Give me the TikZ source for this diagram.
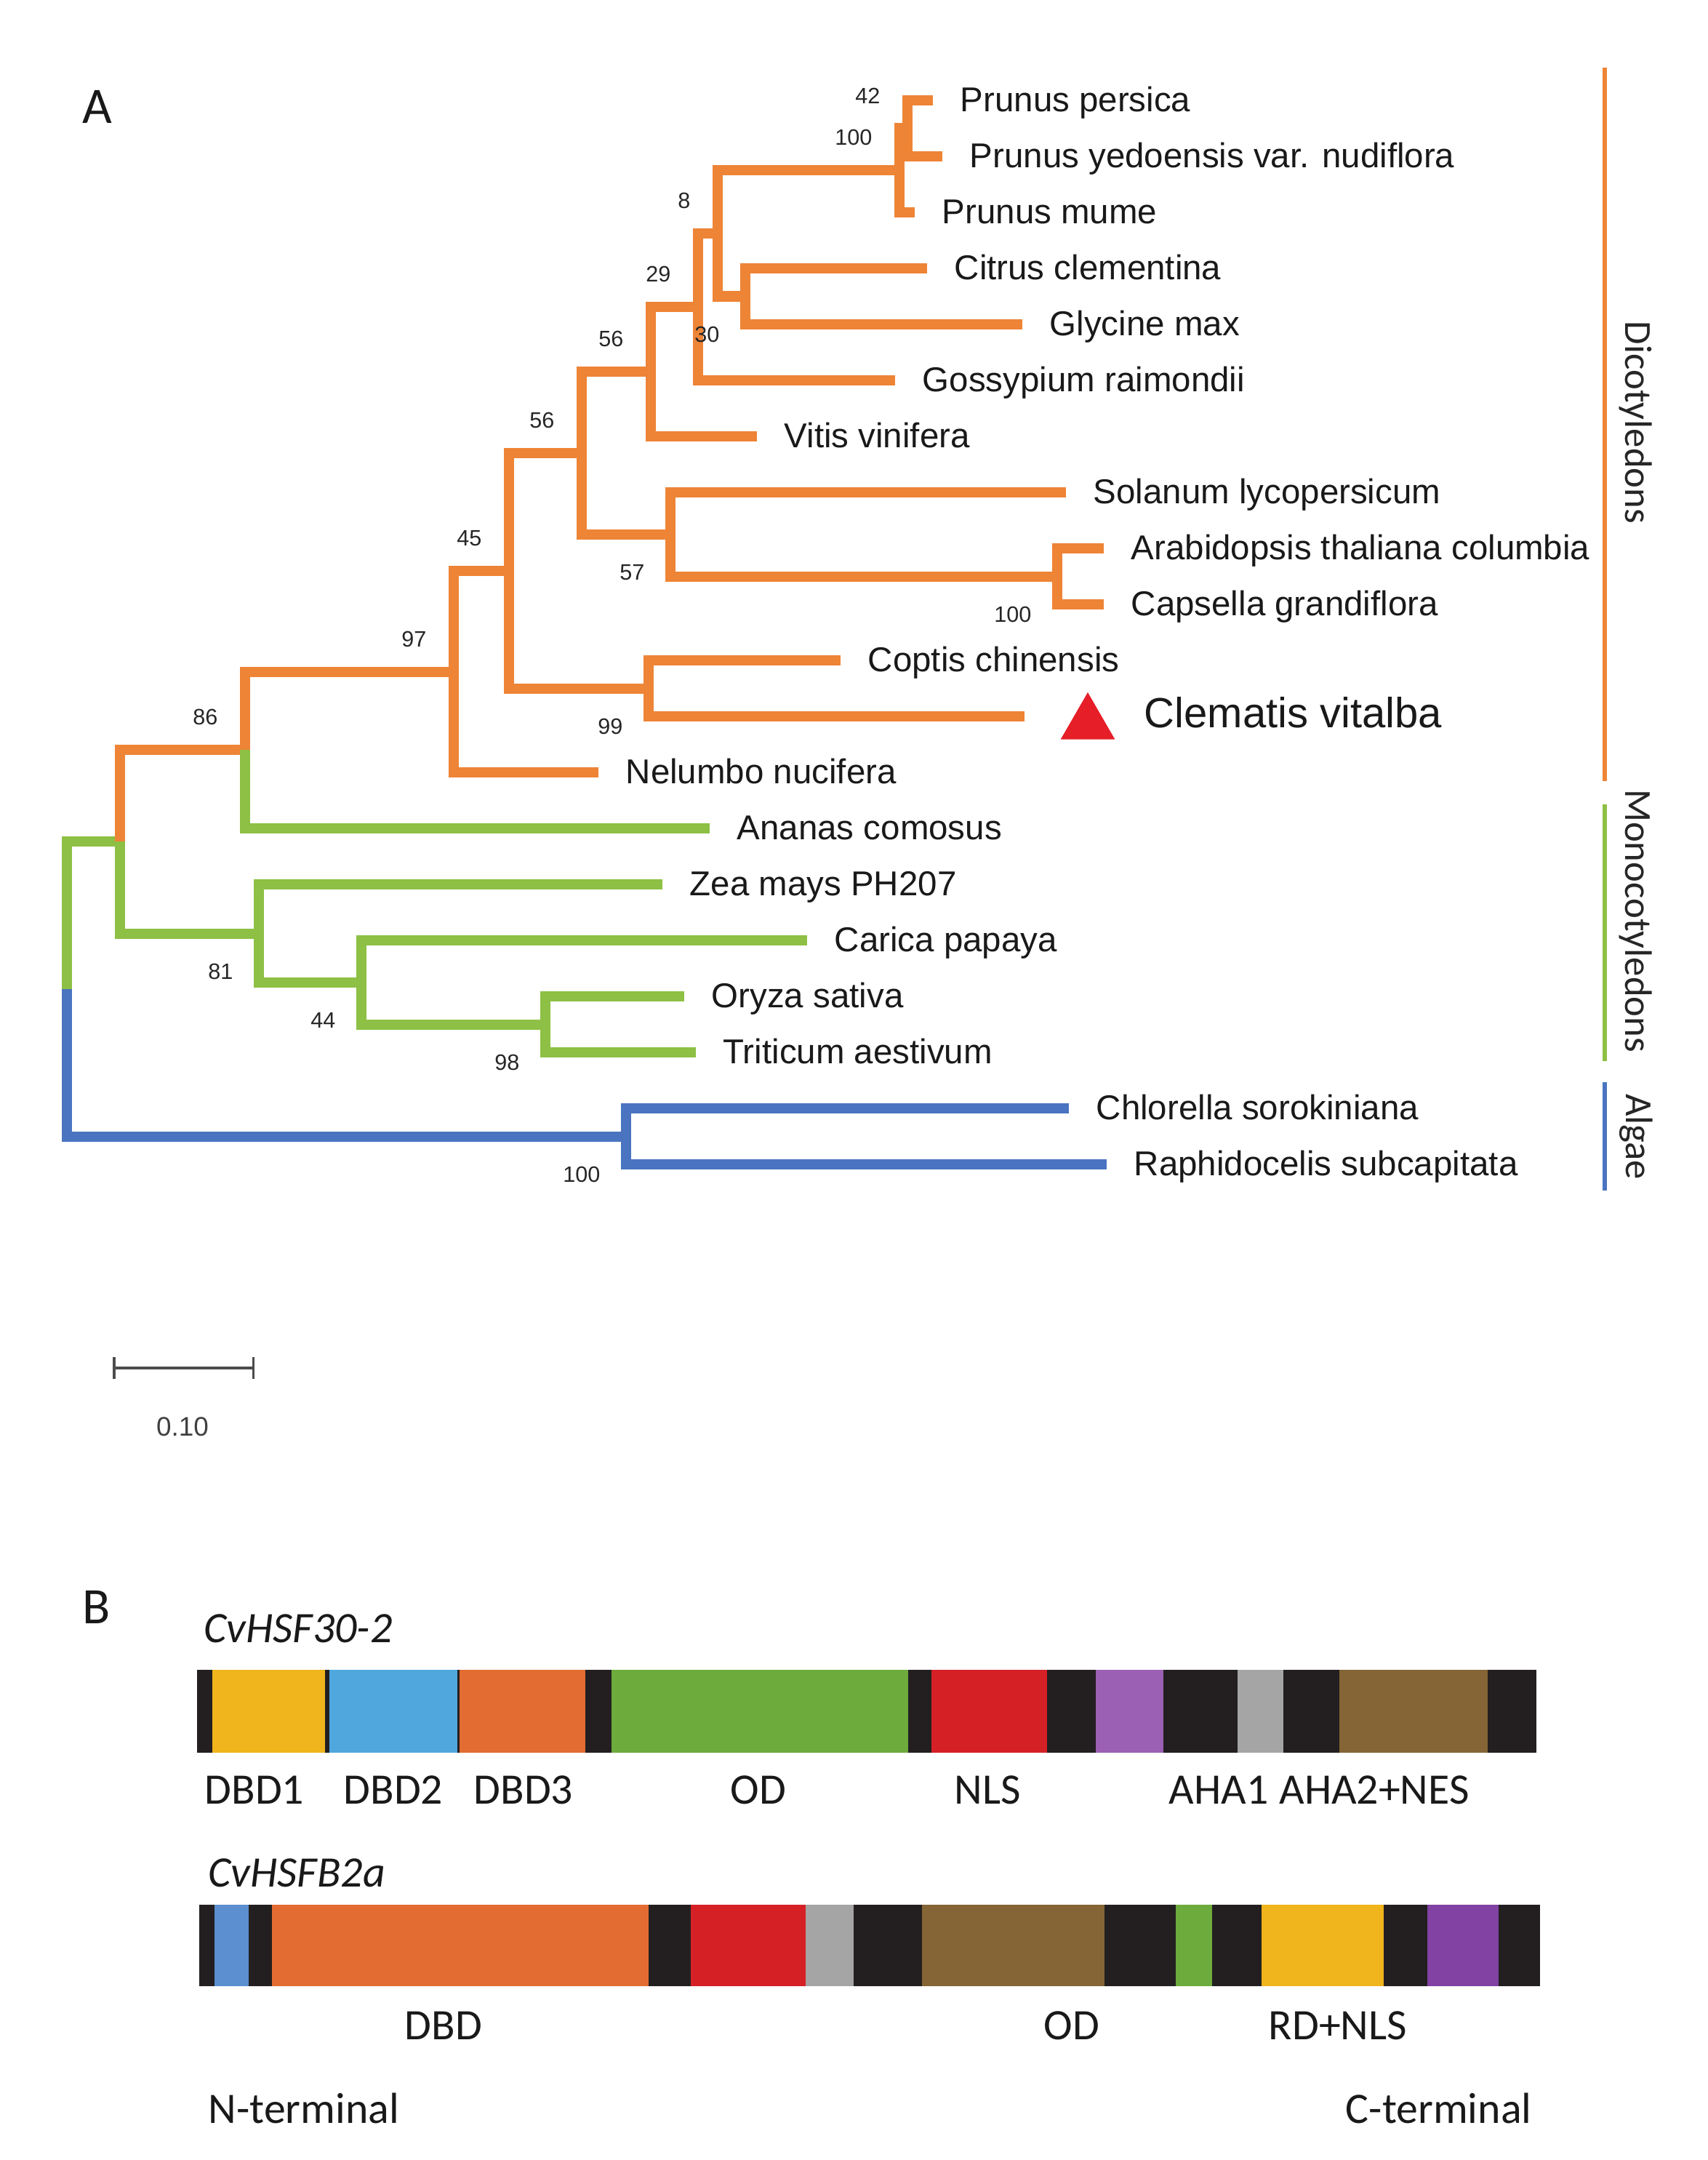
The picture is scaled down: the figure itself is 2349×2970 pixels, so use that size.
\documentclass[tikz,border=0pt]{standalone}
\usepackage{fontspec}
\setmainfont{Liberation Sans}
\newfontfamily\calibriFont{Carlito}
\usetikzlibrary{shapes.geometric,arrows.meta}
\definecolor{dicotOrange}{HTML}{EE8436}
\definecolor{monoGreen}{HTML}{8DC044}
\definecolor{algaeBlue}{HTML}{4A74C0}
\definecolor{markRed}{HTML}{E61E28}
\definecolor{segBlack}{HTML}{231F20}
\definecolor{segYellow}{HTML}{F0B41C}
\definecolor{segBlue}{HTML}{4FA7DE}
\definecolor{segOrange}{HTML}{E36C32}
\definecolor{segGreen}{HTML}{6DAB3C}
\definecolor{segRed}{HTML}{D52126}
\definecolor{segPurple}{HTML}{9B5FB4}
\definecolor{segGray}{HTML}{A5A5A5}
\definecolor{segBrown}{HTML}{856535}
\definecolor{segBlueB}{HTML}{5B8FD0}
\definecolor{segPurpleB}{HTML}{8142A3}
\begin{document}
\begin{tikzpicture}[x=0.01cm, y=-0.01cm,
		branch/.style={line width=0.14cm, line join=miter},
		dicot/.style={branch, draw=dicotOrange},
		mono/.style={branch, draw=monoGreen},
		algae/.style={branch, draw=algaeBlue},
		leaf/.style={anchor=west, inner xsep=0.37cm, inner ysep=0pt, text=black!90, font=\fontsize{13.5}{16}\selectfont, text height=1.1em, text depth=0.2em},
		boot/.style={anchor=east, inner sep=0pt, text=black!85, font=\fontsize{8.7}{10}\selectfont},
		groupBar/.style={line width=0.06cm},
		groupLabel/.style={rotate=-90, text=black!85, font=\calibriFont\fontsize{15}{18}\selectfont},
		panelLabel/.style={text=black!90, font=\calibriFont\fontsize{20}{24}\selectfont},
		domainLabel/.style={text=black!90, font=\calibriFont\fontsize{17}{20}\selectfont},
		protName/.style={anchor=west, inner sep=0pt, text=black!90, font=\calibriFont\itshape\fontsize{17}{20}\selectfont}]
	\useasboundingbox (0,0) rectangle (2349,2970);
	\node[panelLabel](panelA) at (134,147){A};
	% tree nodes
	\coordinate(root) at (92,1360);
	\coordinate(rootB) at (165,1157);
	\coordinate(node86) at (337,1031);
	\coordinate(node97) at (624,923.5);
	\coordinate(node45) at (700,785);
	\coordinate(node56b) at (800,623);
	\coordinate(node56a) at (895,511);
	\coordinate(node29) at (960,422);
	\coordinate(node8) at (987,321);
	\coordinate(node100a) at (1237,234);
	\coordinate(node42) at (1248,176.5);
	\coordinate(node30) at (1025,407.5);
	\coordinate(node57) at (922,735);
	\coordinate(node100b) at (1454,792.5);
	\coordinate(node99) at (892,946.5);
	\coordinate(node81) at (356,1283.5);
	\coordinate(node44) at (497,1351);
	\coordinate(node98) at (750,1408.5);
	\coordinate(node100c) at (861,1562.5);
	\coordinate(clematisEnd) at (1409,985);
	% leaves
	\node[leaf](persicaLeaf) at (1283,138){Prunus persica};
	\node[leaf](yedoensisLeaf) at (1296,215){Prunus yedoensis var. nudiflora};
	\node[leaf](mumeLeaf) at (1258,292){Prunus mume};
	\node[leaf](citrusLeaf) at (1275,369){Citrus clementina};
	\node[leaf](glycineLeaf) at (1406,446){Glycine max};
	\node[leaf](gossypiumLeaf) at (1231,523){Gossypium raimondii};
	\node[leaf](vitisLeaf) at (1041,600){Vitis vinifera};
	\node[leaf](solanumLeaf) at (1466,677){Solanum lycopersicum};
	\node[leaf](arabidopsisLeaf) at (1518,754){Arabidopsis thaliana columbia};
	\node[leaf](capsellaLeaf) at (1518,831){Capsella grandiflora};
	\node[leaf](coptisLeaf) at (1156,908){Coptis chinensis};
	\node[regular polygon, regular polygon sides=3, fill=markRed, inner sep=0pt, minimum size=0.86cm](clematisMark) at (1496,995){};
	\node[leaf, font=\fontsize{16.5}{20}\selectfont](clematisLeaf) at (1536,985){Clematis vitalba};
	\node[leaf](nelumboLeaf) at (823,1062){Nelumbo nucifera};
	\node[leaf](ananasLeaf) at (976,1139){Ananas comosus};
	\node[leaf](zeaLeaf) at (911,1216){Zea mays PH207};
	\node[leaf](caricaLeaf) at (1110,1293){Carica papaya};
	\node[leaf](oryzaLeaf) at (941,1370){Oryza sativa};
	\node[leaf](triticumLeaf) at (957,1447){Triticum aestivum};
	\node[leaf](chlorellaLeaf) at (1470,1524){Chlorella sorokiniana};
	\node[leaf](raphidoLeaf) at (1522,1601){Raphidocelis subcapitata};
	% branches
	\draw[algae] (root) |- (node100c);
	\draw[algae] (node100c) |- (chlorellaLeaf.west);
	\draw[algae] (node100c) |- (raphidoLeaf.west);
	\draw[mono] (root) |- (rootB);
	\draw[dicot] (rootB) |- (node86);
	\draw[mono] (rootB) |- (node81);
	\draw[mono] (node86) |- (ananasLeaf.west);
	\draw[dicot] (node86) |- (node97);
	\draw[dicot] (node97) |- (nelumboLeaf.west);
	\draw[dicot] (node97) |- (node45);
	\draw[dicot] (node45) |- (node56b);
	\draw[dicot] (node45) |- (node99);
	\draw[dicot] (node99) |- (coptisLeaf.west);
	\draw[dicot] (node99) |- (clematisEnd);
	\draw[dicot] (node56b) |- (node56a);
	\draw[dicot] (node56b) |- (node57);
	\draw[dicot] (node57) |- (solanumLeaf.west);
	\draw[dicot] (node57) |- (node100b);
	\draw[dicot] (node100b) |- (arabidopsisLeaf.west);
	\draw[dicot] (node100b) |- (capsellaLeaf.west);
	\draw[dicot] (node56a) |- (node29);
	\draw[dicot] (node56a) |- (vitisLeaf.west);
	\draw[dicot] (node29) |- (node8);
	\draw[dicot] (node29) |- (gossypiumLeaf.west);
	\draw[dicot] (node8) |- (node100a);
	\draw[dicot] (node8) |- (node30);
	\draw[dicot] (node30) |- (citrusLeaf.west);
	\draw[dicot] (node30) |- (glycineLeaf.west);
	\draw[dicot] (node100a) |- (node42);
	\draw[dicot] (node100a) |- (mumeLeaf.west);
	\draw[dicot] (node42) |- (persicaLeaf.west);
	\draw[dicot] (node42) |- (yedoensisLeaf.west);
	\draw[mono] (node81) |- (zeaLeaf.west);
	\draw[mono] (node81) |- (node44);
	\draw[mono] (node44) |- (caricaLeaf.west);
	\draw[mono] (node44) |- (node98);
	\draw[mono] (node98) |- (oryzaLeaf.west);
	\draw[mono] (node98) |- (triticumLeaf.west);
	% bootstrap values
	\path (node42) ++(-37,-45) node[boot](bs42){42};
	\path (node100a) ++(-37,-45) node[boot](bs100a){100};
	\path (node8) ++(-37,-45) node[boot](bs8){8};
	\path (node29) ++(-37,-45) node[boot](bs29){29};
	\path (node56a) ++(-37,-45) node[boot](bs56a){56};
	\path (node56b) ++(-37,-45) node[boot](bs56b){56};
	\path (node45) ++(-37,-45) node[boot](bs45){45};
	\path (node97) ++(-37,-45) node[boot](bs97){97};
	\path (node86) ++(-37,-45) node[boot](bs86){86};
	\path (node30) ++(-35,52) node[boot](bs30){30};
	\path (node57) ++(-35,52) node[boot](bs57){57};
	\path (node100b) ++(-35,52) node[boot](bs100b){100};
	\path (node99) ++(-35,52) node[boot](bs99){99};
	\path (node81) ++(-35,52) node[boot](bs81){81};
	\path (node44) ++(-35,52) node[boot](bs44){44};
	\path (node98) ++(-35,52) node[boot](bs98){98};
	\path (node100c) ++(-35,52) node[boot](bs100c){100};
	% groups
	\coordinate(dicotTop) at (2207,93);
	\coordinate(dicotBot) at (2207,1074);
	\coordinate(monoTop) at (2207,1106);
	\coordinate(monoBot) at (2207,1459);
	\coordinate(algaeTop) at (2207,1488);
	\coordinate(algaeBot) at (2207,1637);
	\draw[groupBar, dicotOrange] (dicotTop) -- (dicotBot);
	\draw[groupBar, monoGreen] (monoTop) -- (monoBot);
	\draw[groupBar, algaeBlue] (algaeTop) -- (algaeBot);
	\node[groupLabel](dicotLabel) at (2250,581){Dicotyledons};
	\node[groupLabel](monoLabel) at (2250,1266){Monocotyledons};
	\node[groupLabel](algaeLabel) at (2250,1563){Algae};
	% scale bar
	\coordinate(scaleLeft) at (155,1881);
	\coordinate(scaleRight) at (350,1881);
	\draw[line width=0.035cm, draw=black!70, {Bar[width=0.3cm]}-{Bar[width=0.3cm]}] (scaleLeft) -- (scaleRight);
	\node[text=black!75, font=\fontsize{10.5}{12}\selectfont](scaleLabel) at (251,1962){0.10};
	% panel B
	\node[panelLabel](panelB) at (133,2210){B};
	\node[protName](hsf30Name) at (280,2239){CvHSF30-2};
	\fill[segBlack] (271,2296) rectangle (2113,2410);
	\fill[segYellow] (292,2296) rectangle (447,2410);
	\fill[segBlue] (453,2296) rectangle (629,2410);
	\fill[segOrange] (632,2296) rectangle (805,2410);
	\fill[segGreen] (841,2296) rectangle (1249,2410);
	\fill[segRed] (1281,2296) rectangle (1440,2410);
	\fill[segPurple] (1507,2296) rectangle (1600,2410);
	\fill[segGray] (1702,2296) rectangle (1765,2410);
	\fill[segBrown] (1842,2296) rectangle (2046,2410);
	\node[domainLabel](dbd1Label) at (350,2461){DBD1};
	\node[domainLabel](dbd2Label) at (541,2461){DBD2};
	\node[domainLabel](dbd3Label) at (720,2461){DBD3};
	\node[domainLabel](odLabel) at (1043,2461){OD};
	\node[domainLabel](nlsLabel) at (1358,2461){NLS};
	\node[domainLabel](aha1Label) at (1676,2461){AHA1};
	\node[domainLabel](aha2Label) at (1890,2461){AHA2+NES};
	\node[protName](hsfB2aName) at (286,2575){CvHSFB2a};
	\fill[segBlack] (274,2619) rectangle (2118,2731);
	\fill[segBlueB] (295,2619) rectangle (342,2731);
	\fill[segOrange] (374,2619) rectangle (892,2731);
	\fill[segRed] (950,2619) rectangle (1108,2731);
	\fill[segGray] (1108,2619) rectangle (1174,2731);
	\fill[segBrown] (1268,2619) rectangle (1519,2731);
	\fill[segGreen] (1617,2619) rectangle (1667,2731);
	\fill[segYellow] (1735,2619) rectangle (1903,2731);
	\fill[segPurpleB] (1963,2619) rectangle (2061,2731);
	\node[domainLabel](dbdLabel) at (610,2785){DBD};
	\node[domainLabel](odBLabel) at (1474,2785){OD};
	\node[domainLabel](rdLabel) at (1840,2785){RD+NLS};
	\node[domainLabel, anchor=west, inner sep=0pt](nTermLabel) at (286,2899){N-terminal};
	\node[domainLabel, anchor=east, inner sep=0pt](cTermLabel) at (2107,2899){C-terminal};
\end{tikzpicture}
\end{document}
